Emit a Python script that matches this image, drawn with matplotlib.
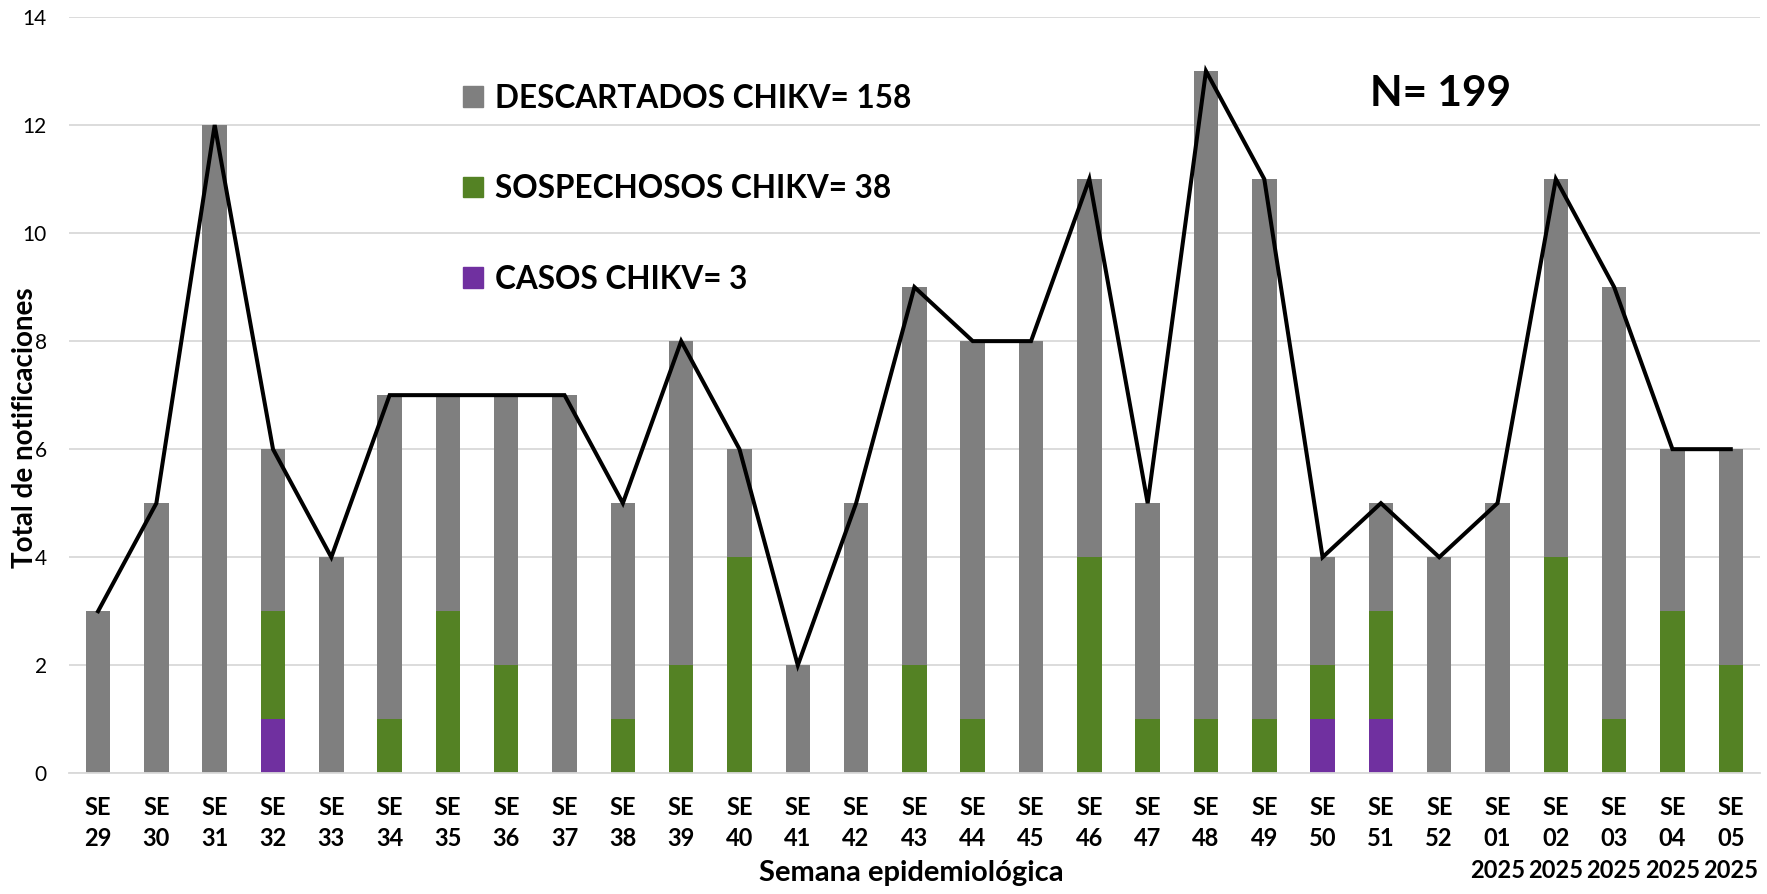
import matplotlib
matplotlib.use("Agg")
import matplotlib.pyplot as plt
from matplotlib.patches import Patch
import numpy as np

plt.rcParams['font.family'] = ['Lato', 'DejaVu Sans']

weeks = ["29", "30", "31", "32", "33", "34", "35", "36", "37", "38", "39", "40",
         "41", "42", "43", "44", "45", "46", "47", "48", "49", "50", "51", "52",
         "01", "02", "03", "04", "05"]
years = [""] * 24 + ["2025"] * 5
casos = [0, 0, 0, 1, 0, 0, 0, 0, 0, 0, 0, 0, 0, 0, 0, 0, 0, 0, 0, 0, 0, 1, 1, 0,
         0, 0, 0, 0, 0]
sospechosos = [0, 0, 0, 2, 0, 1, 3, 2, 0, 1, 2, 4, 0, 0, 2, 1, 0, 4, 1, 1, 1, 1, 2, 0,
               0, 4, 1, 3, 2]
descartados = [3, 5, 12, 3, 4, 6, 4, 5, 7, 4, 6, 2, 2, 5, 7, 7, 8, 7, 4, 12, 10, 2, 2, 4,
               5, 7, 8, 3, 4]
totals = [c + s + d for c, s, d in zip(casos, sospechosos, descartados)]

labels = ["SE\n" + w + ("\n" + y if y else "") for w, y in zip(weeks, years)]

fig = plt.figure(figsize=(17.67, 8.94), dpi=100)
ax = fig.add_axes([0.039, 0.135, 0.957, 0.846])

x = np.arange(len(weeks))
w = 0.42
c_gray = "#7f7f7f"
c_green = "#548224"
c_purple = "#7030a0"

ax.bar(x, casos, w, color=c_purple, zorder=2)
ax.bar(x, sospechosos, w, bottom=casos, color=c_green, zorder=2)
bot2 = [c + s for c, s in zip(casos, sospechosos)]
ax.bar(x, descartados, w, bottom=bot2, color=c_gray, zorder=2)
ax.plot(x, totals, color="black", lw=2.9, zorder=3, solid_joinstyle="miter")

ax.set_xlim(-0.5, len(weeks) - 0.5)
ax.set_ylim(0, 14)
ax.set_yticks(range(0, 15, 2))
ax.grid(axis="y", color="#d9d9d9", lw=1.3, zorder=0)
ax.set_axisbelow(True)
for s in ["top", "right", "left"]:
    ax.spines[s].set_visible(False)
ax.spines["bottom"].set_color("#d9d9d9")
ax.spines["bottom"].set_linewidth(1.3)
ax.tick_params(axis="both", length=0)
ax.tick_params(axis="y", labelsize=15, pad=16)
ax.set_xticks(x)
ax.set_xticklabels(labels, fontsize=17, fontweight="bold", linespacing=1.45, va="top")
ax.tick_params(axis="x", pad=16)

fig.text(0.0141, 0.522, "Total de notificaciones", fontsize=20, fontweight="bold",
         rotation=90, ha="center", va="center")
fig.text(0.5155, 0.0235, "Semana epidemiológica", fontsize=21, fontweight="bold",
         ha="center", va="center")

handles = [Patch(color=c_gray), Patch(color=c_green), Patch(color=c_purple)]
leg_labels = ["DESCARTADOS CHIKV= 158", "SOSPECHOSOS CHIKV= 38", "CASOS CHIKV= 3"]
ax.legend(handles, leg_labels, loc="upper left", bbox_to_anchor=(0.216, 0.9495),
          frameon=False, prop={"size": 22.7, "weight": "bold"},
          handlelength=0.64, handleheight=0.64, handletextpad=0.38,
          labelspacing=1.95)

ax.text(0.7694, 0.898, "N= 199", transform=ax.transAxes, fontsize=30.5,
        fontweight="bold", ha="left", va="center")

fig.savefig("out.png", dpi=100)
